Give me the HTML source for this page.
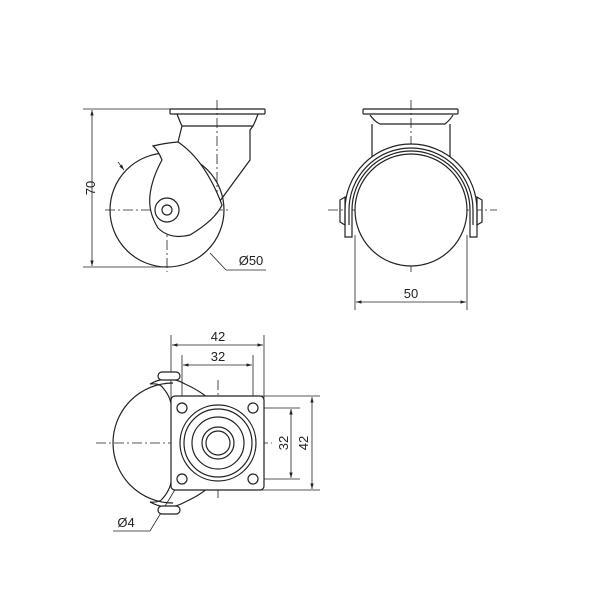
<!DOCTYPE html>
<html><head><style>body{margin:0;background:#fff}svg{display:block}</style></head><body>
<svg width="600" height="600" viewBox="0 0 600 600" xmlns="http://www.w3.org/2000/svg" font-family="Liberation Sans, sans-serif" fill="none" stroke="#222" stroke-width="1.2">
<defs><marker id="a" viewBox="0 0 10 10" refX="10" refY="5" markerWidth="7" markerHeight="7" orient="auto-start-reverse"><path d="M0,2 L10,5 L0,8z" fill="#222" stroke="none"/></marker></defs>
<g stroke-width="0.8">
<line x1="83" y1="109" x2="175" y2="109"/><line x1="83" y1="267" x2="167" y2="267"/>
<line x1="92" y1="110" x2="92" y2="266" marker-start="url(#a)" marker-end="url(#a)"/>
<path d="M210,253 L226,270 L266,270"/><line x1="118" y1="162" x2="124" y2="170" marker-end="url(#a)"/>
<g stroke-dasharray="10,3,2,3"><line x1="105" y1="210" x2="228" y2="210"/><line x1="167" y1="150" x2="167" y2="272"/><line x1="217" y1="100" x2="217" y2="208"/></g>
<g stroke-dasharray="10,3,2,3"><line x1="328" y1="210" x2="497" y2="210"/><line x1="411" y1="100" x2="411" y2="272"/></g>
<line x1="355" y1="235" x2="355" y2="310"/><line x1="467" y1="235" x2="467" y2="310"/>
<line x1="356" y1="302" x2="466" y2="302" marker-start="url(#a)" marker-end="url(#a)"/>
<line x1="171" y1="335" x2="171" y2="400"/><line x1="264" y1="335" x2="264" y2="400"/>
<line x1="182" y1="355" x2="182" y2="405"/><line x1="253" y1="355" x2="253" y2="405"/>
<line x1="172" y1="345" x2="263" y2="345" marker-start="url(#a)" marker-end="url(#a)"/>
<line x1="183" y1="365" x2="252" y2="365" marker-start="url(#a)" marker-end="url(#a)"/>
<line x1="255" y1="396" x2="320" y2="396"/><line x1="255" y1="490" x2="320" y2="490"/>
<line x1="255" y1="408" x2="300" y2="408"/><line x1="255" y1="479" x2="300" y2="479"/>
<line x1="291" y1="409" x2="291" y2="478" marker-start="url(#a)" marker-end="url(#a)"/>
<line x1="312" y1="397" x2="312" y2="489" marker-start="url(#a)" marker-end="url(#a)"/>
<path d="M113,531 L150,531 L185,473" />
<g stroke-dasharray="10,3,2,3"><line x1="96" y1="443" x2="272" y2="443"/><line x1="218" y1="380" x2="218" y2="500"/></g>
</g>
<!-- left view body -->
<rect x="170" y="109" width="95" height="5" rx="1"/>
<path d="M177,114 Q180,122 182,126 L253,126 Q256,120 258,114"/>
<path d="M182,126 L178,142 M253,126 L250,130 L250,160 L217,205"/>
<circle cx="167" cy="210" r="57"/>
<path d="M153,146 Q165,143 178,142 Q205,160 222,205 Q215,220 190,235 Q170,240 158,228 Q148,212 150,195 Q152,178 162,160 Q158,150 153,146z" fill="#fff"/>
<circle cx="167" cy="210" r="12"/><circle cx="167" cy="210" r="5"/>
<!-- right view -->
<rect x="363" y="109" width="95" height="5" rx="1"/>
<path d="M370,115 Q375,122 380,124 L445,124 Q450,120 453,115"/>
<path d="M372,124 L372,160 M450,124 L450,160"/>
<path d="M345,237 L345,210 A66,66 0 0 1 477,210 L477,237 L470,237 L470,210 A59,59 0 0 0 352,210 L352,237z" fill="#fff"/>
<path d="M349,225 L349,210 A62,62 0 0 1 473,210 L473,225"/>
<circle cx="411" cy="210" r="56" fill="#fff"/>
<path d="M340,200 L345,197 L345,225 L340,222z M482,200 L477,197 L477,225 L482,222z"/>
<!-- bottom view -->
<path d="M173,383 A60,60 0 0 0 173,503"/>
<path d="M150,384 Q168,374 185,384 Q205,393 215,405"/>
<path d="M150,502 Q168,512 185,502 Q205,493 215,481"/>
<path d="M150,384 Q160,383 163,388 Q172,398 172,412 M150,502 Q160,503 163,498 Q172,488 172,474"/>
<rect x="158" y="372" width="22" height="8" rx="4" fill="#fff"/><rect x="158" y="506" width="22" height="8" rx="4" fill="#fff"/>
<rect x="171" y="396" width="93" height="94" rx="4" fill="#fff"/>
<circle cx="218" cy="443" r="38"/><circle cx="218" cy="443" r="34"/><circle cx="218" cy="443" r="26"/><circle cx="218" cy="443" r="16"/><circle cx="218" cy="443" r="12"/>
<circle cx="182" cy="408" r="5"/><circle cx="253" cy="408" r="5"/><circle cx="182" cy="479" r="5"/><circle cx="253" cy="479" r="5"/>
<g fill="#222" stroke="none" font-size="13" text-anchor="middle">
<text x="90" y="193" transform="rotate(-90 90 188)">70</text>
<text x="251" y="265">Ø50</text>
<text x="411" y="298">50</text>
<text x="218" y="341">42</text>
<text x="218" y="361">32</text>
<text x="283" y="448" transform="rotate(-90 283 443)">32</text>
<text x="303" y="448" transform="rotate(-90 303 443)">42</text>
<text x="126" y="527">Ø4</text>
</g>
</svg>
</body></html>
